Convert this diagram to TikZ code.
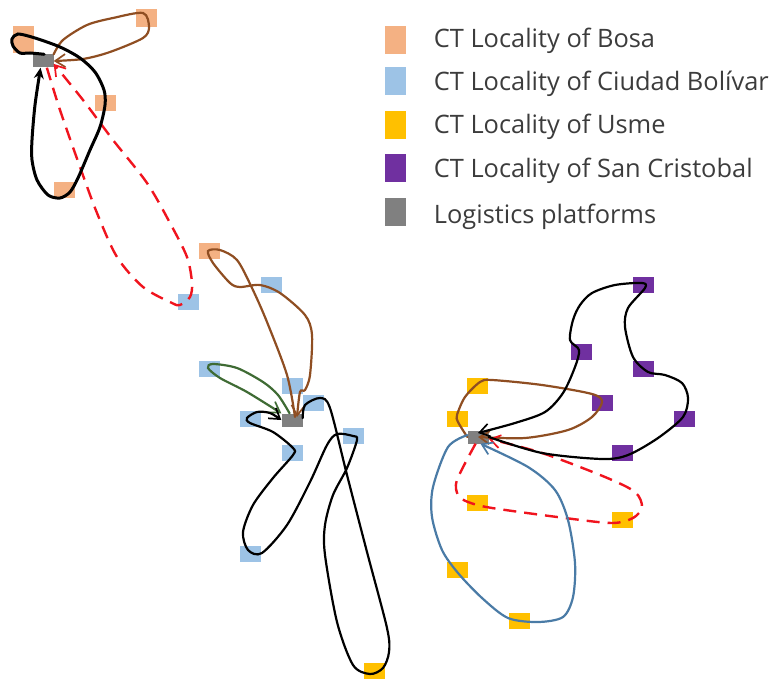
\documentclass[tikz,border=0pt]{standalone}
\usepackage{fontspec}
\setmainfont{Open Sans}
\usepackage{tikz}
\usetikzlibrary{arrows,arrows.meta}
\usetikzlibrary{shapes, positioning, calc}
\definecolor{bosacol}{HTML}{F4B183}
\definecolor{ciudadcol}{HTML}{9DC3E6}
\definecolor{usmecol}{HTML}{FFC000}
\definecolor{cristobalcol}{HTML}{7030A0}
\definecolor{platcol}{HTML}{808080}
\definecolor{brownroute}{HTML}{8F4E22}
\definecolor{greenroute}{HTML}{3F6B34}
\definecolor{blueroute}{HTML}{4A7BA6}
\definecolor{redroute}{HTML}{F0141E}
\definecolor{legtext}{HTML}{3C3C3C}
\begin{document}
\begin{tikzpicture}[x=1pt,y=-1pt,>=stealth',
  ct node/.style={rectangle,inner sep=0pt,minimum width=21pt,minimum height=16pt},
  bosa node/.style={ct node,fill=bosacol},
  ciudad node/.style={ct node,fill=ciudadcol},
  usme node/.style={ct node,fill=usmecol},
  cristobal node/.style={ct node,fill=cristobalcol},
  plat node/.style={ct node,fill=platcol,minimum height=13pt},
  leg box/.style={rectangle,inner sep=0pt,minimum width=21pt,minimum height=28pt},
  leg text/.style={inner sep=0pt,text=legtext,text height=20pt,text depth=4pt,font=\fontsize{25.4}{29}\selectfont},
  route/.style={line width=2.2pt,line cap=round,-{Straight Barb[length=10pt,width=13pt,line width=1.7pt]}},
  black route/.style={route,black},
  thick route/.style={black,line width=3pt,line cap=round,-{Stealth[length=11pt,width=10pt]}},
  brown route/.style={route,brownroute},
  green route/.style={route,greenroute},
  blue route/.style={route,blueroute},
  red route/.style={route,redroute,line width=2.4pt,line cap=butt,dash pattern=on 13pt off 8pt},
  ]
  \useasboundingbox (0,0) rectangle (770,679);
  % legend
  \node[leg box,fill=bosacol] (leg1) at (395,40) {};
  \node[leg box,fill=ciudadcol] (leg2) at (395,81) {};
  \node[leg box,fill=usmecol] (leg3) at (395,125) {};
  \node[leg box,fill=cristobalcol] (leg4) at (395,168) {};
  \node[leg box,fill=platcol] (leg5) at (395,212) {};
  \node[leg text, right=28pt of leg1] (txt1) {CT Locality of Bosa};
  \node[leg text, right=28pt of leg2, yshift=-1.5pt] (txt2) {CT Locality of Ciudad Bolívar};
  \node[leg text, right=28pt of leg3, yshift=-1pt] (txt3) {CT Locality of Usme};
  \node[leg text, right=28pt of leg4, yshift=-2pt] (txt4) {CT Locality of San Cristobal};
  \node[leg text, right=28pt of leg5, yshift=-3pt] (txt5) {Logistics platforms};
  % first cluster
  \node[bosa node,minimum height=27pt] (b1) at (23,40) {};
  \node[bosa node,minimum height=18pt] (b2) at (146,18) {};
  \node[bosa node] (b3) at (105,103) {};
  \node[bosa node] (b4) at (64,190) {};
  \node[ciudad node] (c1) at (188,302) {};
  \node[plat node] (p1) at (43,61) {};
  % second cluster
  \node[bosa node] (b5) at (209,251) {};
  \node[ciudad node] (c2) at (271,285) {};
  \node[ciudad node] (c3) at (209,369) {};
  \node[ciudad node] (c4) at (292,386) {};
  \node[ciudad node] (c5) at (313,403) {};
  \node[ciudad node] (c6) at (250,419) {};
  \node[ciudad node] (c7) at (292,453) {};
  \node[ciudad node] (c8) at (353,436) {};
  \node[ciudad node] (c9) at (250,554) {};
  \node[usme node] (u1) at (374,671) {};
  \node[plat node] (p2) at (292,420) {};
  % third cluster
  \node[cristobal node] (s1) at (643,285) {};
  \node[cristobal node] (s2) at (581,352) {};
  \node[cristobal node] (s3) at (643,369) {};
  \node[cristobal node] (s4) at (602,403) {};
  \node[cristobal node] (s5) at (684,419) {};
  \node[cristobal node] (s6) at (622,453) {};
  \node[usme node] (u2) at (477,386) {};
  \node[usme node] (u3) at (457,419) {};
  \node[usme node] (u4) at (477,503) {};
  \node[usme node] (u5) at (622,520) {};
  \node[usme node] (u6) at (457,570) {};
  \node[usme node] (u7) at (519,621) {};
  \node[plat node] (p3) at (478,437) {};
  % routes of the first cluster
  \draw[brown route] plot[smooth] coordinates {(p1.north east) (63,40) (87,25) (113,18) (143,13) (149,27) (143,38) (110,52) (83,59) (p1.east)};
  \draw[red route] plot[smooth] coordinates {(p1.-60) (60,110) (80,167) (97,213) (117,257) (143,287) (172,303) (180,305) (190,297) (192,283) (187,257) (170,223) (147,183) (113,140) (83,100) (p1.-15)};
  \draw[thick route] plot[smooth] coordinates {(p1.80) (30,53) (20,53) (13,46) (12,39) (18,34) (35,38) (60,47) (80,58) (95,72) (104,90) (105,105) (100,127) (90,150) (78,178) (70,192) (60,198) (48,195) (37,180) (32,160) (32,140) (35,105) (p1.-110)};
  % routes of the second cluster
  \draw[brown route] plot[smooth] coordinates {($(p2.center)+(3,-3)$) (287,375) (267,322) (252,288) (237,260) (220,250) (208,251) (213,263) (230,283) (240,287) (260,285) (280,293) (305,315) (312,335) (310,375) (305,390) (300,392) ($(p2.center)+(5,-3)$)};
  \draw[green route] plot[smooth] coordinates {(p2.110) (278,395) (263,382) (237,368) (213,364) (208,368) (220,378) (247,392) (p2.north west)};
  \draw[black route] plot[smooth] coordinates {(p2.10) (305,405) (320,398) (330,408) (347,475) (367,552) (387,628) (389,652) (383,668) (370,674) (353,665) (337,622) (325,555) (325,525) (333,495) (347,468) (357,440) (353,436) (337,434) (327,445) (310,482) (287,525) (262,553) (248,550) (243,532) (253,505) (273,478) (293,455) (293,448) (273,432) (250,423) (247,418) (257,412) (270,413) (p2.west)};
  % routes of the third cluster
  \draw[brown route] plot[smooth] coordinates {(p3.west) (458,422) (457,415) (465,397) (480,382) (492,380) (542,385) (592,394) (602,402) (592,417) (568,430) (525,438) (p3.center)};
  \draw[red route] plot[smooth] coordinates {(p3.-110) (457,480) (458,495) (468,502) (492,508) (565,518) (612,523) (633,518) (642,507) (635,492) (605,477) (542,453) (p3.-10)};
  \draw[blue route] plot[smooth] coordinates {(p3.170) (448,447) (433,487) (432,517) (442,550) (458,573) (482,598) (508,618) (538,622) (563,617) (573,597) (575,563) (568,520) (555,490) (528,467) (p3.-70)};
  \draw[black route] plot[smooth] coordinates {(p3.east) (542,453) (602,459) (628,455) (658,438) (683,417) (688,398) (682,383) (665,375) (648,372) (633,357) (625,327) (628,308) (645,288) (642,283) (615,285) (592,293) (580,305) (573,320) (570,340) (579,350) (575,367) (563,393) (545,412) (515,423) ($(p3.center)+(0,-4)$)};
\end{tikzpicture}
\end{document}
